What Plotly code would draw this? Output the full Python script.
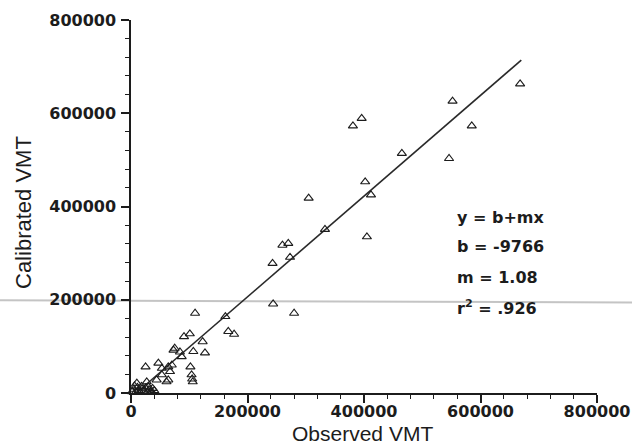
import plotly.graph_objects as go

# Observed vs calibrated VMT
observed = [
    668000, 552000, 585000, 546000, 465000, 381000, 396000, 402000, 412000, 405000,
    305000, 333000, 260000, 270000, 273000, 243000, 244000, 280000, 110000, 162000,
    167000, 177000, 91000, 101000, 123000, 127000, 107000, 73000, 84000, 87000,
    75000, 25000, 47000, 53000, 64000, 70000, 102000, 104000, 106000, 105000,
    44000, 61000, 64000, 53000, 67000, 10000, 27000,
    2000, 5000, 8000, 11000, 13000, 16000, 19000, 22000, 25000, 28000,
    31000, 34000, 37000, 40000, 6000, 18000, 30000, 36000,
]
calibrated = [
    663000, 626000, 573000, 503000, 514000, 573000, 589000, 453000, 425000, 335000,
    418000, 351000, 317000, 321000, 291000, 278000, 191000, 171000, 171000, 164000,
    132000, 126000, 121000, 127000, 110000, 86000, 89000, 92000, 88000, 78000,
    96000, 56000, 64000, 53000, 56000, 60000, 56000, 39000, 24000, 30000,
    28000, 24000, 28000, 39000, 46000, 21000, 24000,
    3000, 8000, 2000, 12000, 5000, 1000, 9000, 4000, 11000, 2000,
    7000, 3000, 10000, 5000, 15000, 14000, 13000, 2000,
]

# Regression: y = b + m x
b_coef = -9766
m_coef = 1.08
r2 = 0.926
fit_x = [12000, 670000]
fit_y = [b_coef + m_coef * x for x in fit_x]

tick_vals = [0, 200000, 400000, 600000, 800000]
tick_text = ["0", "200000", "400000", "600000", "800000"]

ink = "#1c1c1c"

fig = go.Figure()
fig.add_trace(go.Scatter(
    x=fit_x, y=fit_y, mode="lines",
    line=dict(color="#2a2a2a", width=1.6),
    showlegend=False, hoverinfo="skip",
))
fig.add_trace(go.Scatter(
    x=observed, y=calibrated, mode="markers",
    marker=dict(symbol="triangle-up-open", size=8, color=ink, line=dict(width=1.1, color=ink)),
    cliponaxis=False, showlegend=False,
))

axis_common = dict(
    range=[0, 800000], tickvals=tick_vals, ticktext=tick_text,
    showgrid=False, zeroline=False, showline=True, linecolor=ink, linewidth=1.5,
    ticks="outside", ticklen=8, tickwidth=1.5, tickcolor=ink,
    minor=dict(dtick=40000, tick0=0, ticks="outside", ticklen=4, tickwidth=1.2, tickcolor=ink),
    tickfont=dict(family="DejaVu Sans", size=16, color=ink, weight="bold"),
    automargin=False,
)

fig.update_layout(
    width=632, height=445,
    margin=dict(l=131, r=35, t=20, b=52),
    paper_bgcolor="white", plot_bgcolor="white",
    xaxis=dict(**axis_common, ticklabelstandoff=-5),
    yaxis=dict(**axis_common, ticklabelstandoff=2),
    showlegend=False,
)

# faint scan fold line across the page
fig.add_shape(type="line", xref="paper", yref="y",
              x0=-131/466, x1=501/466, y0=199000, y1=194000,
              line=dict(color="#c4c4c4", width=2), layer="below")

fig.add_annotation(text="Observed VMT", xref="paper", yref="paper",
                   x=(362-131)/466, y=(393-433)/373, xanchor="center", yanchor="middle",
                   showarrow=False,
                   font=dict(family="Liberation Sans", size=21, color=ink))
fig.add_annotation(text="Calibrated VMT", xref="paper", yref="paper",
                   x=(23-131)/466, y=(393-213)/373, xanchor="center", yanchor="middle",
                   showarrow=False, textangle=-90,
                   font=dict(family="Liberation Sans", size=22, color=ink))

eq_lines = ["y = b+mx", f"b = {b_coef}", f"m = {m_coef}", "r<sup>2</sup> = " + f"{r2:.3f}"[1:]]
eq_y_px = [217, 247, 277, 307]
for t, ypx in zip(eq_lines, eq_y_px):
    fig.add_annotation(text=t, xref="paper", yref="paper",
                       x=(455-131)/466, y=(393-ypx)/373, xanchor="left", yanchor="middle",
                       showarrow=False,
                       font=dict(family="DejaVu Sans", size=16, color=ink, weight="bold"))

fig.write_html("out.html", config={"displayModeBar": False},
               post_script="document.body.style.margin='0px';")
